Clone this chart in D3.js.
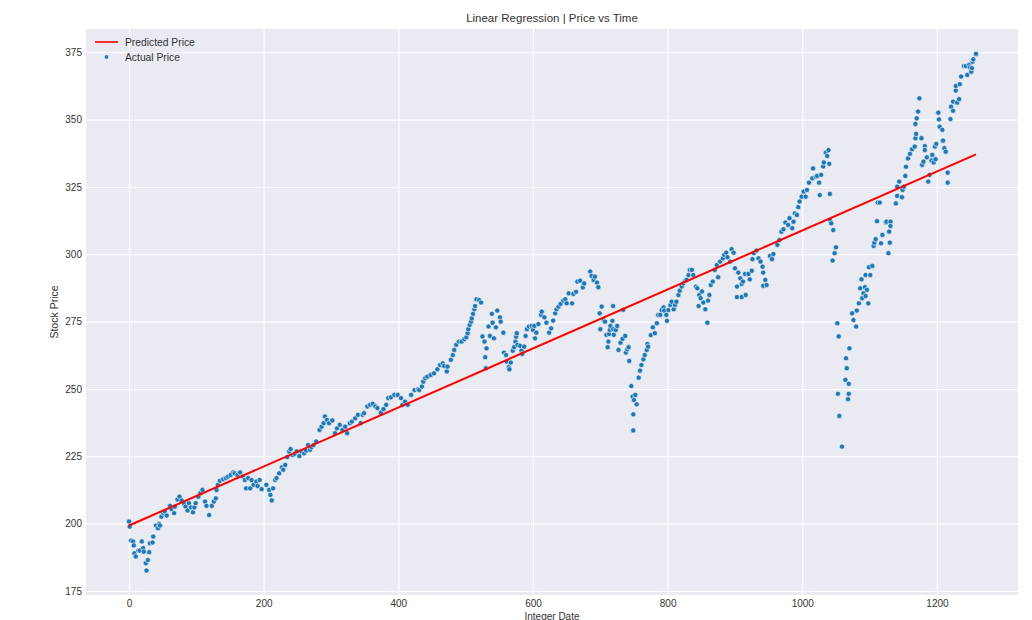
<!DOCTYPE html>
<html>
<head>
<meta charset="utf-8">
<script src="https://cdn.jsdelivr.net/npm/d3@7"></script>
<style>
  body { margin: 0; background: #fff; }
  text { font-family: "Liberation Sans", Arial, sans-serif; fill: #333; }
</style>
</head>
<body>
<div id="chart"></div>
<script>
// Actual price scatter [integer date, price]
const actualPoints = [
  [0,200.8],[1,198.9],[3,193.7],[6,193.4],[7,191.9],[8,189.0],[10,187.8],[14,190.0],[16,190.0],[19,193.4],
  [21,190.9],[22,189.6],[25,185.3],[26,182.6],[28,186.5],[30,189.4],[31,192.7],[35,193.0],[36,195.2],[40,199.3],
  [43,198.3],[45,199.9],[46,199.3],[48,202.6],[51,203.9],[53,204.5],[56,203.0],[61,206.6],[63,205.4],[67,203.9],
  [68,206.3],[72,209.0],[75,210.0],[78,208.6],[82,207.3],[84,206.3],[87,204.9],[89,207.6],[92,206.0],[95,204.2],
  [97,206.0],[99,207.6],[103,210.0],[106,211.3],[109,212.5],[113,208.2],[115,206.6],[119,203.2],[123,206.6],[126,208.2],
  [129,209.4],[130,212.5],[132,214.4],[135,215.9],[140,216.5],[144,216.9],[147,217.5],[151,218.1],[155,219.0],[157,218.7],
  [161,218.1],[165,219.0],[169,217.5],[172,216.2],[174,213.1],[177,216.9],[180,213.1],[182,216.2],[185,214.4],[189,215.6],
  [191,214.0],[194,216.2],[197,212.8],[204,214.4],[208,212.5],[210,210.7],[212,208.6],[214,213.1],[217,216.2],[219,216.9],
  [223,218.7],[227,220.9],[229,220.0],[232,221.8],[235,224.7],[238,226.8],[240,227.7],[243,225.5],[246,225.9],[249,226.8],
  [253,225.1],[256,226.8],[260,226.1],[263,227.1],[266,229.2],[269,227.4],[271,228.4],[274,229.2],[278,230.5],[283,234.8],
  [286,236.0],[289,237.3],[291,239.8],[294,238.5],[297,237.3],[302,238.3],[306,233.6],[309,235.4],[313,236.7],[317,234.8],
  [321,236.0],[324,233.6],[328,237.3],[331,237.9],[336,239.1],[340,240.4],
  [344,237.3],[347,240.4],[349,241.0],[354,243.5],[358,244.1],[362,244.5],[366,243.5],[369,242.9],[374,241.2],[378,242.5],
  [382,244.1],[385,246.6],[389,246.9],[394,247.8],[399,247.8],[404,246.6],[406,244.1],[410,245.3],[414,244.1],[419,247.8],
  [424,249.6],[429,249.9],[431,249.6],[435,250.9],[437,252.7],[440,254.0],[443,254.6],[448,255.2],[453,255.8],[458,257.3],
  [462,258.9],[466,259.5],[468,258.5],[472,256.5],[473,258.3],[478,260.8],[481,262.6],[483,264.5],[486,266.4],[490,267.6],
  [494,267.6],[498,268.5],[501,269.2],[503,270.7],[504,272.2],[506,273.8],[508,275.0],[509,276.2],[511,277.9],[513,279.6],
  [514,280.8],[516,283.3],[520,283.0],[523,282.1],[525,269.5],[528,267.6],[529,261.8],[530,257.7],[531,265.1],[534,273.2],
  [536,269.7],[539,277.9],[540,274.6],[542,268.8],[545,272.9],[547,279.1],[551,276.6],[552,275.0],[556,270.9],[557,263.5],
  [560,262.6],[561,260.2],[564,258.1],[565,257.3],[567,259.8],[570,264.2],[572,265.5],[574,267.6],[575,269.4],[576,270.7],
  [577,266.4],[581,266.0],[583,264.2],[584,263.0],[587,265.7],[589,269.7],[591,272.2],[594,273.2],[598,273.4],[600,271.9],
  [602,273.4],[603,268.8],[605,270.9],[608,274.1],[612,277.5],[613,278.7],[617,276.6],[620,274.6],[624,270.9],[627,272.5],
  [630,275.4],[633,278.1],[635,279.6],[638,280.6],[641,281.6],[645,282.8],[648,283.3],[650,281.8],[653,285.5],[658,281.8],
  [660,285.3],[664,286.1],[666,289.9],[670,290.2],[674,287.7],[676,289.2],
  [685,293.6],[687,292.0],[690,290.5],[692,291.7],[695,289.5],[697,287.8],[699,278.1],[700,272.2],[702,280.6],[705,275.6],
  [707,275.0],[709,270.1],[711,265.5],[712,267.6],[713,270.4],[714,271.9],[715,273.4],[718,275.3],[719,280.8],[719,272.2],
  [720,270.1],[723,271.9],[725,273.4],[727,264.5],[730,267.2],[733,268.6],[734,279.4],[737,269.7],[738,263.5],[740,264.7],
  [742,265.5],[743,260.4],[746,251.1],[748,247.2],[750,245.9],[749,240.6],[752,247.8],[754,244.3],[749,234.6],[757,254.2],
  [759,256.8],[761,258.9],[764,261.0],[766,262.6],[769,264.5],[770,266.7],[771,265.7],[775,270.0],[778,272.9],[781,270.7],
  [784,274.4],[786,277.5],[789,277.5],[791,279.3],[794,280.3],[795,279.1],[798,277.5],[799,275.3],[801,279.3],[804,281.2],
  [806,282.4],[809,279.6],[811,281.2],[813,282.4],[816,284.9],[818,286.5],[821,288.0],[823,289.2],[826,290.1],[828,290.5],
  [831,292.3],[833,294.2],[836,294.2],[838,292.3],[842,288.0],[844,287.4],[846,280.8],[847,284.9],[849,283.7],[851,286.2],
  [853,282.1],[856,279.6],[859,274.6],[860,282.8],[862,284.9],[864,288.6],[867,289.9],[870,294.2],[873,296.0],[875,291.5],
  [878,297.3],[882,298.5],[884,299.8],[887,300.6],[889,298.9],[893,297.3],[895,301.9],[898,300.6],[900,294.8],[903,288.0],
  [903,284.1],[905,293.2],[908,291.1],[910,289.0],[910,284.1],[912,289.9],[915,292.7],[916,284.9],[920,292.7],[922,290.7],
  [925,293.9],[926,298.2],[928,300.4],[932,301.4],[935,298.5],[938,297.3],[941,295.4],[942,293.2],[942,288.3],[945,290.5],
  [947,288.6],[952,299.4],[955,298.2],[957,300.1],[963,303.5],
  [966,305.3],[969,308.4],[972,309.3],[975,311.8],[979,310.9],[981,313.4],[985,309.7],[987,312.1],[989,315.2],[992,314.6],
  [994,317.5],[996,319.6],[999,321.4],[1002,323.3],[1005,321.4],[1007,323.9],[1010,326.6],[1015,328.2],[1016,331.9],[1020,328.8],
  [1022,329.1],[1025,326.6],[1026,322.0],[1028,329.5],[1031,332.6],[1032,334.1],[1035,337.8],[1037,336.5],[1039,338.7],[1040,333.6],
  [1041,322.4],[1041,312.8],[1043,311.5],[1046,309.0],[1045,297.7],[1048,300.4],[1050,302.6],[1052,274.4],[1053,248.2],[1054,269.5],
  [1055,240.0],[1059,228.6],[1064,253.4],[1065,261.4],[1066,257.7],[1068,246.2],[1069,248.2],[1069,251.9],[1070,265.1],[1074,278.1],
  [1076,275.6],[1080,273.2],[1081,279.1],[1084,281.8],[1086,287.4],[1088,290.7],[1089,283.7],[1091,285.5],[1093,287.8],[1094,284.5],
  [1094,292.3],[1096,286.8],[1098,281.8],[1099,295.2],[1101,292.3],[1104,295.7],[1106,303.1],[1107,304.3],[1109,305.6],[1111,312.3],
  [1112,319.2],[1115,319.2],[1117,304.1],[1119,307.2],[1124,311.8],[1125,312.1],[1128,300.4],[1129,308.4],[1130,304.3],[1131,312.1],
  [1131,310.5],[1139,318.9],[1141,321.7],[1141,325.1],[1144,327.0],[1148,321.2],[1149,323.9],[1151,325.1],[1153,329.1],[1154,332.5],
  [1157,335.6],[1160,337.3],[1163,339.0],[1167,340.0],[1168,343.1],[1168,348.4],[1169,344.7],[1170,350.5],[1172,353.0],[1174,357.9],
  [1177,343.1],[1178,333.2],[1180,334.4],[1182,340.2],[1182,338.7],[1185,336.0],[1187,327.0],[1189,329.5],[1192,334.8],[1193,336.9],
  [1195,334.1],[1197,340.0],[1198,335.3],[1199,341.0],[1202,352.6],[1203,350.1],[1204,347.4],[1208,346.2],[1209,342.2],[1211,339.4],
  [1213,338.1],[1216,330.3],[1216,326.6],[1220,350.2],[1221,354.8],[1224,353.3],[1224,356.7],[1228,360.8],[1228,362.5],[1230,356.3],
  [1233,357.6],[1234,363.2],[1236,366.0],[1240,369.9],[1243,369.9],[1245,366.6],[1248,370.3],[1249,369.4],[1251,367.8],[1252,369.1],
  [1253,371.5],[1254,372.4],[1258,374.4]
];

// Regression line end points
const predictedDate = [0, 1258];
const predictedPrice = [199.3, 337.1];

const xTicks = [0, 200, 400, 600, 800, 1000, 1200];
const yTicks = [175, 200, 225, 250, 275, 300, 325, 350, 375];

const width = 1032;
const height = 620;
const margin = { top: 29, right: 14, bottom: 25, left: 86 };

const svg = d3
  .select('#chart')
  .append('svg')
  .attr('width', width)
  .attr('height', height);

const x = d3.scaleLinear().domain([-63.9, 1320.4]).range([margin.left, width - margin.right]);
const y = d3.scaleLinear().domain([173.5, 383.65]).range([height - margin.bottom, margin.top]);

// plot background
svg
  .append('rect')
  .attr('x', margin.left)
  .attr('y', margin.top)
  .attr('width', width - margin.left - margin.right)
  .attr('height', height - margin.top - margin.bottom)
  .attr('fill', '#eaeaf2');

/* Grid + axes
=========================================================================*/
const xAxis = svg
  .append('g')
  .attr('transform', `translate(0, ${height - margin.bottom})`)
  .call(
    d3
      .axisBottom(x)
      .tickValues(xTicks)
      .tickFormat(d3.format('d'))
      .tickSize(-(height - margin.top - margin.bottom))
      .tickPadding(5)
  );

const yAxis = svg
  .append('g')
  .attr('transform', `translate(${margin.left}, 0)`)
  .call(
    d3
      .axisLeft(y)
      .tickValues(yTicks)
      .tickFormat(d3.format('d'))
      .tickSize(-(width - margin.left - margin.right))
      .tickPadding(4)
  );

[xAxis, yAxis].forEach((g) => {
  g.select('.domain').remove();
  g.selectAll('.tick line').attr('stroke', '#fff').attr('stroke-width', 1.1);
  g.selectAll('.tick text').style('font-size', '10px').attr('fill', '#333');
});

/* Marks
=========================================================================*/
const line = d3
  .line()
  .x((d) => x(d[0]))
  .y((d) => y(d[1]));

svg
  .append('g')
  .selectAll('circle')
  .data(actualPoints)
  .enter()
  .append('circle')
  .attr('cx', (d) => x(d[0]))
  .attr('cy', (d) => y(d[1]))
  .attr('r', 2.6)
  .attr('fill', '#1f77b4')
  .attr('stroke', '#fff')
  .attr('stroke-width', 0.6);

svg
  .append('path')
  .datum(predictedDate.map((d, i) => [d, predictedPrice[i]]))
  .attr('d', line)
  .attr('fill', 'none')
  .attr('stroke', '#ff0000')
  .attr('stroke-width', 2);

/* Labels + legend
=========================================================================*/
svg
  .append('text')
  .attr('x', (margin.left + width - margin.right) / 2)
  .attr('y', 22)
  .attr('text-anchor', 'middle')
  .style('font-size', '11.5px')
  .text('Linear Regression | Price vs Time');

svg
  .append('text')
  .attr('x', (margin.left + width - margin.right) / 2)
  .attr('y', 619.5)
  .attr('text-anchor', 'middle')
  .style('font-size', '10px')
  .text('Integer Date');

svg
  .append('text')
  .attr('transform', `translate(58, ${(margin.top + height - margin.bottom) / 2}) rotate(-90)`)
  .attr('text-anchor', 'middle')
  .style('font-size', '10.5px')
  .text('Stock Price');

const legend = svg.append('g').attr('transform', 'translate(95, 42)');

legend.append('line').attr('x1', 0).attr('x2', 23).attr('y1', 0).attr('y2', 0).attr('stroke', '#ff0000').attr('stroke-width', 1.6);
legend.append('text').attr('x', 30).attr('y', 3.5).style('font-size', '10.3px').text('Predicted Price');

legend.append('circle').attr('cx', 11.5).attr('cy', 15).attr('r', 2.2).attr('fill', '#1f77b4').attr('stroke', '#fff').attr('stroke-width', 0.5);
legend.append('text').attr('x', 30).attr('y', 18.5).style('font-size', '10.3px').text('Actual Price');
</script>
</body>
</html>
